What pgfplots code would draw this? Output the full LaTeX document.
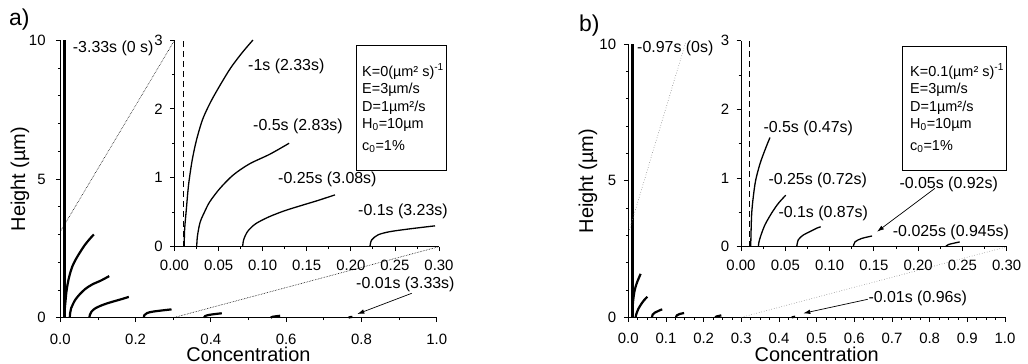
\documentclass[border=0pt]{standalone}
\usepackage{fontspec}
\setmainfont{Liberation Sans}
\usepackage{pgfplots}
\pgfplotsset{compat=1.18}
\usetikzlibrary{arrows.meta}

\pgfplotsset{
  myaxis/.style={
    scale only axis, anchor=south west,
    axis lines=left, axis line style={-, line width=0.9bp},
    tick align=outside,
    major tick length=4.5bp, minor tick length=2.5bp,
    every tick/.style={black, line width=0.8bp},
    /pgf/number format/assume math mode=true,
    ticklabel style={font=\fontsize{15}{17}\selectfont, inner sep=0pt},
    clip=false,
  },
  maincurve/.style={black, line width=2.2bp, smooth},
  insetcurve/.style={black, line width=1.3bp, smooth},
}

\newcommand{\ann}{\fontsize{16}{18}\selectfont}
\newcommand{\boxf}{\fontsize{14.5}{16}\selectfont}

\begin{document}
\begin{tikzpicture}
\useasboundingbox (0bp,0bp) rectangle (1028bp,-364bp);

% ---------------- Panel a: main ----------------
\begin{axis}[myaxis, at={(60.3bp,-317.7bp)}, width=376.4bp, height=277.4bp,
  xmin=0, xmax=1, ymin=0, ymax=10,
  xtick={0,0.2,0.4,0.6,0.8,1}, xticklabels={0.0,0.2,0.4,0.6,0.8,1.0},
  minor x tick num=1,
  ytick={0,5,10}, yticklabels={0,5,10}, minor y tick num=4,
  xticklabel style={anchor=base, yshift=-21.8bp},
  yticklabel style={anchor=east, xshift=-10bp},
]
\addplot[black, line width=3bp] coordinates {(0.01,0) (0.01,10)};
\addplot[maincurve] coordinates {(0.011,0) (0.0115,0.25) (0.0135,0.55) (0.016,0.9) (0.02,1.25) (0.025,1.55) (0.032,1.85) (0.041,2.1) (0.052,2.35) (0.064,2.6) (0.077,2.82) (0.089,3.0)};
\addplot[maincurve] coordinates {(0.0252,0) (0.026,0.15) (0.029,0.35) (0.034,0.5) (0.040,0.65) (0.0516,0.845) (0.0667,1.04) (0.085,1.2) (0.108,1.34) (0.130,1.50)};
\addplot[maincurve] coordinates {(0.0773,0) (0.0785,0.1) (0.083,0.22) (0.092,0.33) (0.107,0.43) (0.125,0.52) (0.145,0.60) (0.163,0.67) (0.182,0.75)};
\addplot[maincurve] coordinates {(0.2217,0) (0.2236,0.095) (0.231,0.17) (0.244,0.215) (0.263,0.25) (0.282,0.28) (0.2955,0.30)};
\addplot[maincurve] coordinates {(0.382,0) (0.385,0.06) (0.395,0.10) (0.41,0.13) (0.429,0.16)};
\addplot[maincurve] coordinates {(0.559,0) (0.563,0.03) (0.572,0.05) (0.584,0.07)};
\addplot[maincurve] coordinates {(0.766,0) (0.770,0.02) (0.776,0.03)};
\addplot[black, densely dotted, line width=0.6bp] coordinates {(0,3.1) (0.3034,10)};
\addplot[black, densely dotted, line width=0.6bp] coordinates {(0.3,0) (1.006,2.56)};
\end{axis}

% ---------------- Panel a: inset ----------------
\begin{axis}[myaxis, at={(174.5bp,-246.5bp)}, width=264.5bp, height=206.5bp,
  xmin=0, xmax=0.3, ymin=0, ymax=3,
  xtick={0,0.05,0.1,0.15,0.2,0.25,0.3}, xticklabels={0.00,0.05,0.10,0.15,0.20,0.25,0.30},
  minor x tick num=1,
  ytick={0,1,2,3}, yticklabels={0,1,2,3}, minor y tick num=1,
  xticklabel style={anchor=base, yshift=-19.5bp},
  yticklabel style={anchor=east, xshift=-7bp},
]
\addplot[black, line width=1.3bp, dash pattern=on 6bp off 4bp] coordinates {(0.01,0) (0.01,3)};
\addplot[insetcurve] coordinates {(0.011,0) (0.0115,0.25) (0.0135,0.55) (0.016,0.9) (0.02,1.25) (0.025,1.55) (0.032,1.85) (0.041,2.1) (0.052,2.35) (0.064,2.6) (0.077,2.82) (0.089,3.0)};
\addplot[insetcurve] coordinates {(0.0252,0) (0.026,0.15) (0.029,0.35) (0.034,0.5) (0.040,0.65) (0.0516,0.845) (0.0667,1.04) (0.085,1.2) (0.108,1.34) (0.130,1.50)};
\addplot[insetcurve] coordinates {(0.0773,0) (0.0785,0.1) (0.083,0.22) (0.092,0.33) (0.107,0.43) (0.125,0.52) (0.145,0.60) (0.163,0.67) (0.182,0.75)};
\addplot[insetcurve] coordinates {(0.2217,0) (0.2236,0.095) (0.231,0.17) (0.244,0.215) (0.263,0.25) (0.282,0.28) (0.2955,0.30)};
\end{axis}

% ---------------- Panel b: main ----------------
\begin{axis}[myaxis, at={(628.3bp,-317.3bp)}, width=376.7bp, height=273.3bp,
  xmin=0, xmax=1, ymin=0, ymax=10,
  xtick={0,0.1,0.2,0.3,0.4,0.5,0.6,0.7,0.8,0.9,1}, xticklabels={0.0,0.1,0.2,0.3,0.4,0.5,0.6,0.7,0.8,0.9,1.0},
  minor x tick num=3,
  ytick={0,5,10}, yticklabels={0,5,10}, minor y tick num=4,
  xticklabel style={anchor=base, yshift=-22bp},
  yticklabel style={anchor=east, xshift=-7.5bp},
]
\addplot[black, line width=3bp] coordinates {(0.01,0) (0.01,10)};
\addplot[maincurve] coordinates {(0.011,0) (0.0113,0.195) (0.0121,0.49) (0.0139,0.73) (0.0166,0.97) (0.0215,1.21) (0.0271,1.41) (0.0327,1.59)};
\addplot[maincurve] coordinates {(0.0196,0) (0.0203,0.07) (0.0226,0.17) (0.0271,0.32) (0.0346,0.49) (0.0421,0.63) (0.0505,0.75)};
\addplot[maincurve] coordinates {(0.0629,0) (0.0647,0.1) (0.0703,0.17) (0.0779,0.22) (0.0855,0.27) (0.090,0.29)};
\addplot[maincurve] coordinates {(0.1268,0) (0.1287,0.07) (0.1362,0.12) (0.148,0.156)};
\addplot[maincurve] coordinates {(0.231,0) (0.234,0.03) (0.240,0.05) (0.247,0.07)};
\addplot[maincurve] coordinates {(0.434,0) (0.438,0.01) (0.443,0.02)};
\addplot[gray, dotted, line width=0.6bp] coordinates {(0.003,3.2) (0.152,10.05)};
\addplot[gray, dotted, line width=0.6bp] coordinates {(0.3,0) (1.0045,2.58)};
\end{axis}

% ---------------- Panel b: inset ----------------
\begin{axis}[myaxis, at={(741bp,-246.7bp)}, width=265.7bp, height=206bp,
  xmin=0, xmax=0.3, ymin=0, ymax=3,
  xtick={0,0.05,0.1,0.15,0.2,0.25,0.3}, xticklabels={0.00,0.05,0.10,0.15,0.20,0.25,0.30},
  minor x tick num=1,
  ytick={0,1,2,3}, yticklabels={0,1,2,3}, minor y tick num=1,
  xticklabel style={anchor=base, yshift=-19.3bp},
  yticklabel style={anchor=east, xshift=-7bp},
]
\addplot[black, line width=1.2bp, dash pattern=on 6bp off 4bp] coordinates {(0.01,0) (0.01,3)};
\addplot[insetcurve] coordinates {(0.011,0) (0.0113,0.195) (0.0121,0.49) (0.0139,0.73) (0.0166,0.97) (0.0215,1.21) (0.0271,1.41) (0.0327,1.59)};
\addplot[insetcurve] coordinates {(0.0196,0) (0.0203,0.07) (0.0226,0.17) (0.0271,0.32) (0.0346,0.49) (0.0421,0.63) (0.0505,0.75)};
\addplot[insetcurve] coordinates {(0.0629,0) (0.0647,0.1) (0.0703,0.17) (0.0779,0.22) (0.0855,0.27) (0.090,0.29)};
\addplot[insetcurve] coordinates {(0.1268,0) (0.1287,0.07) (0.1362,0.12) (0.148,0.156)};
\addplot[insetcurve] coordinates {(0.231,0) (0.234,0.03) (0.240,0.05) (0.247,0.07)};
\end{axis}

% ---------------- Text: panel a ----------------
\node[anchor=base west, inner sep=0, font=\fontsize{23}{25}\selectfont] at (9bp,-25bp) {a)};
\node[rotate=90, inner sep=0, font=\fontsize{20}{22}\selectfont] at (20bp,-179bp) {Height (µm)};
\node[anchor=base, inner sep=0, font=\fontsize{20}{22}\selectfont] at (248.5bp,-361.8bp) {Concentration};
\begin{scope}[every node/.style={anchor=base west, inner sep=0, font=\ann}]
\node at (72.7bp,-52.4bp) {-3.33s (0 s)};
\node at (248bp,-70.7bp) {-1s (2.33s)};
\node at (253bp,-130.7bp) {-0.5s (2.83s)};
\node at (278bp,-183.7bp) {-0.25s (3.08s)};
\node at (358bp,-215.7bp) {-0.1s (3.23s)};
\node at (356bp,-288.7bp) {-0.01s (3.33s)};
\end{scope}
\draw[-{Latex[length=7bp,width=4.5bp]}, line width=0.7bp] (411.7bp,-293.3bp) -- (357.3bp,-314bp);
\draw[line width=0.8bp] (356bp,-45.7bp) rectangle (446.7bp,-170bp);
\begin{scope}[every node/.style={anchor=base west, inner sep=0, font=\boxf}]
\node at (362bp,-76bp) {K=0(µm² s)\textsuperscript{-1}};
\node at (362bp,-93.5bp) {E=3µm/s};
\node at (362bp,-111bp) {D=1µm²/s};
\node at (362bp,-128.3bp) {H\textsubscript{0}=10µm};
\node at (362bp,-150.3bp) {c\textsubscript{0}=1\%};
\end{scope}

% ---------------- Text: panel b ----------------
\node[anchor=base west, inner sep=0, font=\fontsize{23}{25}\selectfont] at (579bp,-31bp) {b)};
\node[rotate=90, inner sep=0, font=\fontsize{20}{22}\selectfont] at (588bp,-181bp) {Height (µm)};
\node[anchor=base, inner sep=0, font=\fontsize{20}{22}\selectfont] at (816.7bp,-361.8bp) {Concentration};
\begin{scope}[every node/.style={anchor=base west, inner sep=0, font=\ann}]
\node at (637bp,-52.7bp) {-0.97s (0s)};
\node at (763.3bp,-132.4bp) {-0.5s (0.47s)};
\node at (768.3bp,-184bp) {-0.25s (0.72s)};
\node at (778.3bp,-217.4bp) {-0.1s (0.87s)};
\node at (899.3bp,-188.7bp) {-0.05s (0.92s)};
\node at (892.7bp,-236.4bp) {-0.025s (0.945s)};
\node at (868.3bp,-302.4bp) {-0.01s (0.96s)};
\end{scope}
\draw[-{Latex[length=7bp,width=4.5bp]}, line width=0.7bp] (935bp,-188.3bp) -- (877bp,-231.7bp);
\draw[-{Latex[length=7bp,width=4.5bp]}, line width=0.7bp] (867.7bp,-299.3bp) -- (803.3bp,-313.3bp);
\draw[line width=0.8bp] (902.3bp,-46bp) rectangle (1006.7bp,-170.7bp);
\begin{scope}[every node/.style={anchor=base west, inner sep=0, font=\boxf}]
\node at (910bp,-76bp) {K=0.1(µm² s)\textsuperscript{-1}};
\node at (910bp,-93.5bp) {E=3µm/s};
\node at (910bp,-111bp) {D=1µm²/s};
\node at (910bp,-128.3bp) {H\textsubscript{0}=10µm};
\node at (910bp,-150.3bp) {c\textsubscript{0}=1\%};
\end{scope}
\end{tikzpicture}
\end{document}
